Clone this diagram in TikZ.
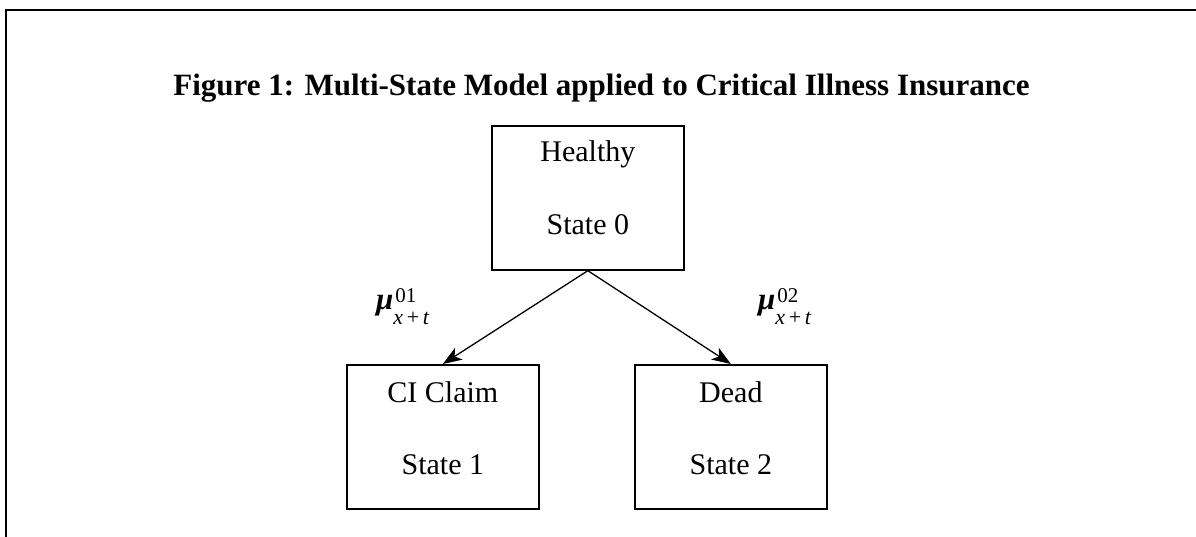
\documentclass[tikz,border=0pt]{standalone}
\usepackage{fontspec}
\setmainfont{Liberation Serif}
\usetikzlibrary{arrows.meta}

\tikzset{
  frameline/.style={line width=2pt, line cap=rect},
  statebox/.style={draw, line width=1.7pt, minimum width=192pt, minimum height=144pt,
    inner sep=0pt, anchor=north west},
  statetext/.style={anchor=base, inner sep=0pt, font=\fontsize{30}{36}\selectfont},
  transition/.style={line width=1.3pt,
    -{Stealth[length=19pt,width=14pt,inset=5pt]}},
  ratelabel/.style={anchor=base west, inner sep=0pt}
}

% transition intensity: mu with stacked super- and subscript
\newcommand{\rate}[1]{%
  {\fontsize{31}{36}\selectfont\bfseries\itshape μ}%
  \rlap{\raisebox{7pt}{\fontsize{21}{21}\selectfont\hspace{2pt}#1}}%
  \raisebox{-15pt}{\fontsize{22}{22}\selectfont\itshape x\upshape\,+\,\itshape t}}

\begin{document}
\begin{tikzpicture}[x=1pt, y=-1pt]
  \useasboundingbox (0,0) rectangle (1196,537);

  % open frame: top and left edges only
  \draw[frameline] (6,540) -- (6,10) -- (1200,10);

  % caption
  \node[anchor=base, inner sep=0pt, font=\fontsize{31}{36}\selectfont\bfseries]
    (title) at (601.5,96) {Figure 1: Multi-State Model applied to Critical Illness Insurance};

  % states
  \node[statebox] (healthy) at (491,125) {};
  \node[statebox] (ci)      at (346,364) {};
  \node[statebox] (dead)    at (634,364) {};

  \node[statetext] (healthyA) at ([yshift=-37pt]healthy.north) {Healthy};
  \node[statetext] (healthyB) at ([yshift=-110pt]healthy.north) {State 0};
  \node[statetext] (ciA)      at ([yshift=-38pt]ci.north) {CI Claim};
  \node[statetext] (ciB)      at ([yshift=-110pt]ci.north) {State 1};
  \node[statetext] (deadA)    at ([yshift=-38pt]dead.north) {Dead};
  \node[statetext] (deadB)    at ([yshift=-110pt]dead.north) {State 2};

  % transitions
  \draw[transition] (healthy.south) -- (ci.north);
  \draw[transition] (healthy.south) -- (dead.north);

  % intensities
  \node[ratelabel] (mu01) at (376,309) {\rate{01}};
  \node[ratelabel] (mu02) at (758,309) {\rate{02}};
\end{tikzpicture}
\end{document}
